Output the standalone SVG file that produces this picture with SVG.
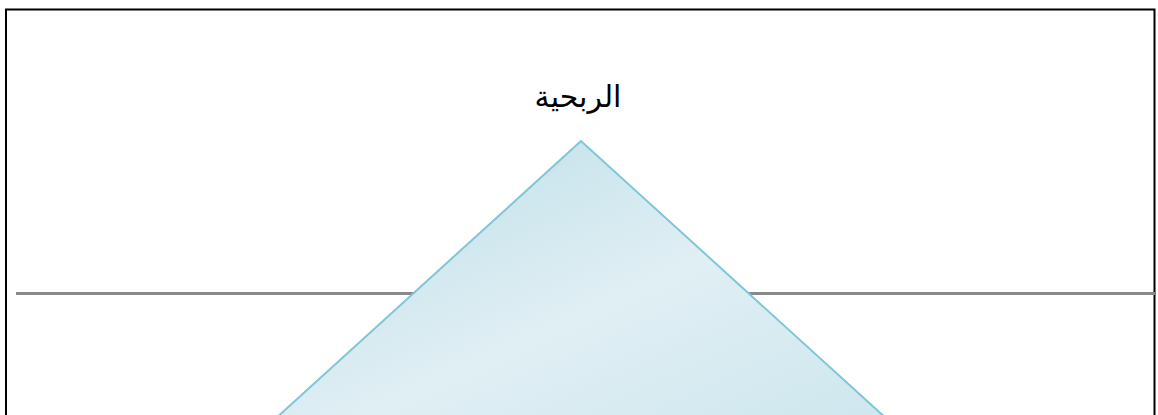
<svg xmlns="http://www.w3.org/2000/svg" width="1158" height="415" viewBox="0 0 1158 415">
<defs>
<linearGradient id="tri" x1="0" y1="0" x2="1" y2="1">
<stop offset="0" stop-color="#b9dce7"/>
<stop offset="0.55" stop-color="#e0eff4"/>
<stop offset="1" stop-color="#cde6ee"/>
</linearGradient>
<style>
.frame{fill:none;stroke:#000;stroke-width:2}
.axis{stroke:#898989;stroke-width:3}
.tri{fill:url(#tri);stroke:#7fc6d6;stroke-width:2}
.lbl{font-family:"Liberation Sans","DejaVu Sans",sans-serif;font-size:30px;fill:#000}
</style>
</defs>
<rect width="1158" height="415" fill="#fff"/>
<g id="frame"><path class="frame" d="M6,430 V9.5 H1154.5 V430"/></g>
<g id="connectors"><line class="axis" x1="16" y1="293.5" x2="1155" y2="293.5"/></g>
<g id="pyramid"><polygon class="tri" points="581,141 263,430 899,430"/></g>
<g id="label"><text class="lbl" x="578" y="107" text-anchor="middle">الربحية</text></g>
</svg>
